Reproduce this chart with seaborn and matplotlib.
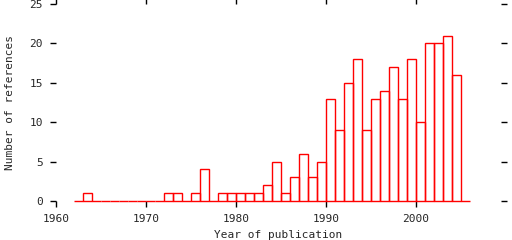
import numpy as np
import pandas as pd
import matplotlib
matplotlib.use("Agg")
import matplotlib.pyplot as plt
import seaborn as sns

years = list(range(1962, 2006))
counts = [0, 1, 0, 0, 0, 0, 0, 0, 0, 0,
          1, 1, 0, 1, 4, 0, 1, 1, 1, 1,
          1, 2, 5, 1, 3, 6, 3, 5, 13, 9,
          15, 18, 9, 13, 14, 17, 13, 18, 10, 20,
          20, 21, 16, 0]
xticks = [1960, 1970, 1980, 1990, 2000]
yticks = [0, 5, 10, 15, 20, 25]

sns.set_style("white")
plt.rcParams['font.family'] = ['DejaVu Sans Mono']

df = pd.DataFrame({"year": [y + 0.5 for y in years], "n": counts})

fig = plt.figure(figsize=(5.12, 2.4), dpi=100)
ax = fig.add_axes([56/512, 39/240, 445/512, 197/240])
sns.histplot(data=df, x="year", weights="n", binwidth=1, binrange=(1962, 2006),
             fill=False, color="red", linewidth=1.0, element="bars", ax=ax)
for p in ax.patches:
    p.set_clip_on(False)
    p.set_edgecolor("red")

ax.set_xlim(1960, 1960 + 445/9.0)
ax.set_ylim(0, 25)
ax.set_xticks(xticks)
ax.set_yticks(yticks)
ax.set_xticklabels([str(t) for t in xticks], fontsize=8)
ax.set_yticklabels([str(t) for t in yticks], fontsize=8)
for s in ax.spines.values():
    s.set_visible(False)
ax.tick_params(direction="out", length=4.5, width=1, color="black",
               top=True, right=True, bottom=True, left=True,
               labeltop=False, labelright=False, pad=5)
ax.set_xlabel("Year of publication", fontsize=8, labelpad=4)
ax.set_ylabel("Number of references", fontsize=8, labelpad=10)

fig.savefig("out.png", dpi=100)
